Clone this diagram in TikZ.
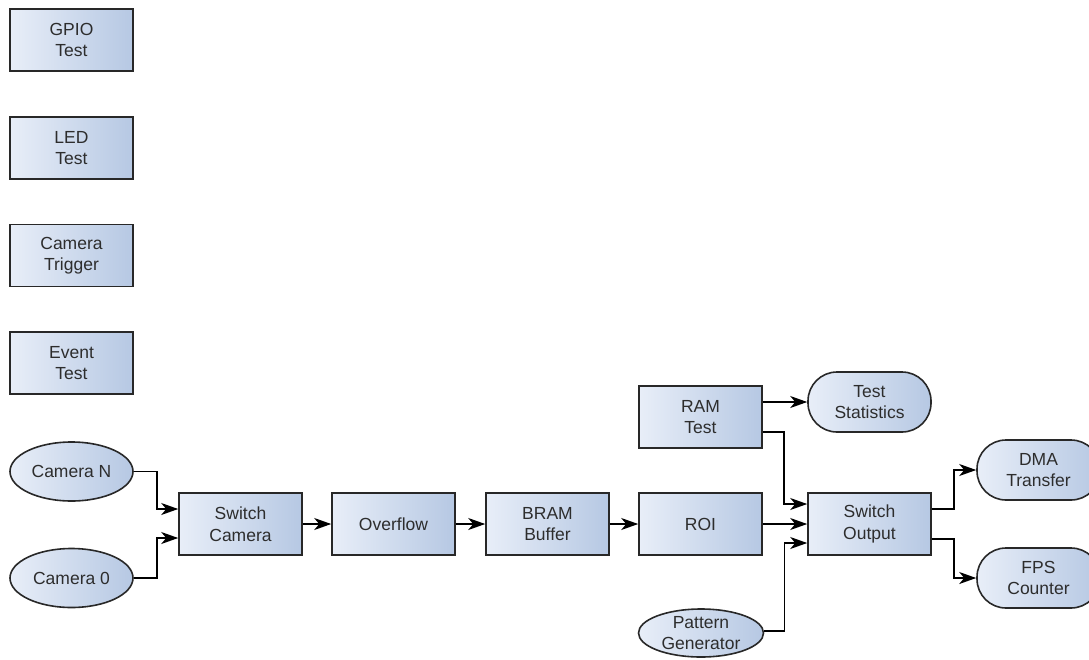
\documentclass[tikz,border=0pt]{standalone}
\usepackage{fontspec}
\setmainfont{Liberation Sans}
\usetikzlibrary{shapes,arrows.meta}

\definecolor{fillL}{RGB}{232,238,248}
\definecolor{fillR}{RGB}{182,200,227}
\definecolor{edge}{RGB}{40,40,40}
\definecolor{txt}{RGB}{45,45,45}

\tikzset{
	block/.style={draw=edge, line width=1.6pt, left color=fillL, right color=fillR,
		text=txt, align=center, inner sep=0pt, font=\fontsize{17.5}{21.5}\selectfont},
	box/.style={block, rectangle, minimum width=123pt, minimum height=62pt},
	source/.style={block, ellipse, minimum width=123pt, minimum height=59pt},
	sink/.style={block, rectangle, rounded corners=29pt, minimum width=123pt, minimum height=60pt},
	link/.style={draw=black, line width=1.6pt, -{Stealth[length=17pt,width=12pt,inset=5pt]}}
}

\begin{document}
\begin{tikzpicture}[x=1pt,y=-1pt]
			\clip (0,0) rectangle (1089,659);
			\fill[white] (0,0) rectangle (1089,659);
			% stand-alone tests
			\node[box] (gpio) at (71.5,40) {GPIO\\Test};
			\node[box] (led) at (71.5,148) {LED\\Test};
			\node[box] (trigger) at (71.5,255.5) {Camera\\Trigger};
			\node[box] (event) at (71.5,363) {Event\\Test};
			% camera inputs
			\node[source] (camN) at (71.5,471.5) {Camera N};
			\node[source] (cam0) at (71.5,578) {Camera 0};
			% main chain
			\node[box] (swcam) at (240.5,524) {Switch\\Camera};
			\node[box] (overflow) at (393.5,524) {Overflow};
			\node[box] (bram) at (547.5,524) {BRAM\\Buffer};
			\node[box] (roi) at (700.5,524) {ROI};
			\node[box] (swout) at (869.5,524) {Switch\\Output};
			\node[box] (ram) at (700.5,417) {RAM\\Test};
			\node[source, minimum width=125pt, minimum height=48pt] (pattern) at (701,633) {Pattern\\Generator};
			% outputs
			\node[sink] (stats) at (869.5,402) {Test\\Statistics};
			\node[sink] (dma) at (1038.5,470) {DMA\\Transfer};
			\node[sink] (fps) at (1038.5,578) {FPS\\Counter};
			% connectors
			\draw[link] (camN.east) -- ++(23,0) |- ([yshift=15pt]swcam.west);
			\draw[link] (cam0.east) -- ++(23,0) |- ([yshift=-14pt]swcam.west);
			\draw[link] (swcam) -- (overflow);
			\draw[link] (overflow) -- (bram);
			\draw[link] (bram) -- (roi);
			\draw[link] (roi) -- (swout);
			\draw[link] ([yshift=15pt]ram.east) -- (stats.west);
			\draw[link] ([yshift=-15pt]ram.east) -- ++(21,0) |- ([yshift=20pt]swout.west);
			\draw[link] ([yshift=2pt]pattern.east) -- ++(20,0) |- ([yshift=-19pt]swout.west);
			\draw[link] ([yshift=15pt]swout.east) -- ++(22,0) |- (dma.west);
			\draw[link] ([yshift=-15pt]swout.east) -- ++(22,0) |- (fps.west);
\end{tikzpicture}
\end{document}
